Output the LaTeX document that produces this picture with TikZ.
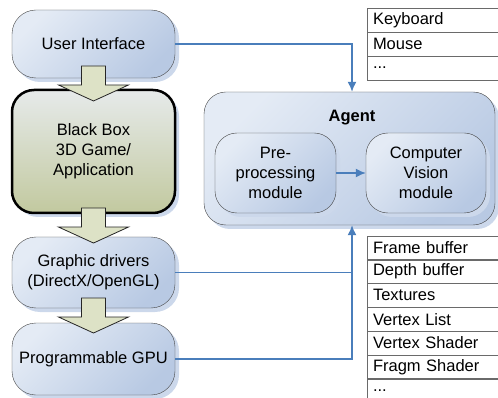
\documentclass[tikz,border=0pt]{standalone}
\usepackage{fontspec}
\setmainfont{Liberation Sans}
\usetikzlibrary{arrows.meta,shadows,calc}

\definecolor{boxlight}{HTML}{E4EBF5}
\definecolor{boxdark}{HTML}{B8C9E3}
\definecolor{boxline}{HTML}{444444}
\definecolor{boxshadow}{HTML}{CCD8EB}
\definecolor{gamelight}{HTML}{E6EAEA}
\definecolor{gamedark}{HTML}{C2C99F}
\definecolor{bigarrow}{HTML}{DDE2C6}
\definecolor{linkblue}{HTML}{4A7EBB}
\definecolor{cellline}{HTML}{6A6A6A}

\newcommand{\morerows}{...}

\tikzset{
  softbox/.style={draw=boxline,rounded corners=24pt,top color=boxlight,bottom color=boxdark,
    shading angle=45,align=center,inner sep=0pt,
    drop shadow={shadow xshift=4pt,shadow yshift=-4pt,fill=boxshadow,opacity=1}},
  gamebox/.style={softbox,draw=black,line width=2.5pt,rounded corners=22pt,
    top color=gamelight,bottom color=gamedark},
  cell/.style={draw=cellline,minimum width=132pt,minimum height=24pt,text width=120pt,
    align=left,inner xsep=6pt,inner ysep=0pt},
  blockarrow/.style={draw=black!85,line width=0.8pt,fill=bigarrow,line join=miter},
  link/.style={draw=linkblue,line width=1.5pt},
  tip/.style={-{Latex[length=10pt,width=9pt]}},
}

\begin{document}
\begin{tikzpicture}[x=1pt,y=-1pt,font=\fontsize{16.5}{20}\selectfont]
\useasboundingbox (0,0) rectangle (498,398);

% left column
\node[softbox,minimum width=163pt,minimum height=68pt] (ui) at (93.5,44) {User Interface};
\node[gamebox,minimum width=163pt,minimum height=123pt] (game) at (93.5,151.5) {Black Box\\3D Game/\\Application};
\node[softbox,minimum width=163pt,minimum height=71pt] (drv) at (93.5,272.5) {Graphic drivers\\(DirectX/OpenGL)};
\node[softbox,minimum width=163pt,minimum height=72pt] (gpu) at (93.5,359) {Programmable GPU};

% big arrows between the layers
\foreach \a/\b in {ui/game,game/drv,drv/gpu}
  \draw[blockarrow] ($(\a.south)!.5!(\b.north)$) ++(-12,-17.5) -- ++(24,0) -- ++(0,19)
    -- ++(23,0) -- ++(-35,16) -- ++(-35,-16) -- ++(23,0) -- cycle;

% agent
\node[softbox,rounded corners=22pt,minimum width=291pt,minimum height=133pt] (agent) at (349.5,158.5) {};
\node[font=\fontsize{16.5}{20}\selectfont\bfseries] (agenttxt) at (352,118) {Agent};
\node[softbox,rounded corners=22pt,minimum width=121pt,minimum height=80pt] (pre) at (275.5,173) {Pre-\\processing\\module};
\node[softbox,rounded corners=22pt,minimum width=120pt,minimum height=80pt] (cv) at (426,173) {Computer\\Vision\\module};
\draw[link,tip] (pre) -- (cv);

% input devices
\foreach \t [count=\i] in {Keyboard,Mouse,\morerows}
  \node[cell] (dev\i) at (433,{-4+24*\i}) {\t};

% gpu data
\foreach \t [count=\i] in {Frame buffer,Depth buffer,Textures,Vertex List,Vertex Shader,Fragm Shader,\morerows}
  \node[cell] (buf\i) at (433,{224+23.8*\i}) {\t};

% connections to the agent
\coordinate (top) at ([xshift=2.5pt]agent.north);
\coordinate (bot) at ([xshift=2.5pt]agent.south);
\draw[link,tip] (ui.east) -| (top);
\draw[link,tip] (gpu.east) -| (bot);
\draw[link] (drv.east) -- (drv.east -| bot);
\end{tikzpicture}
\end{document}
